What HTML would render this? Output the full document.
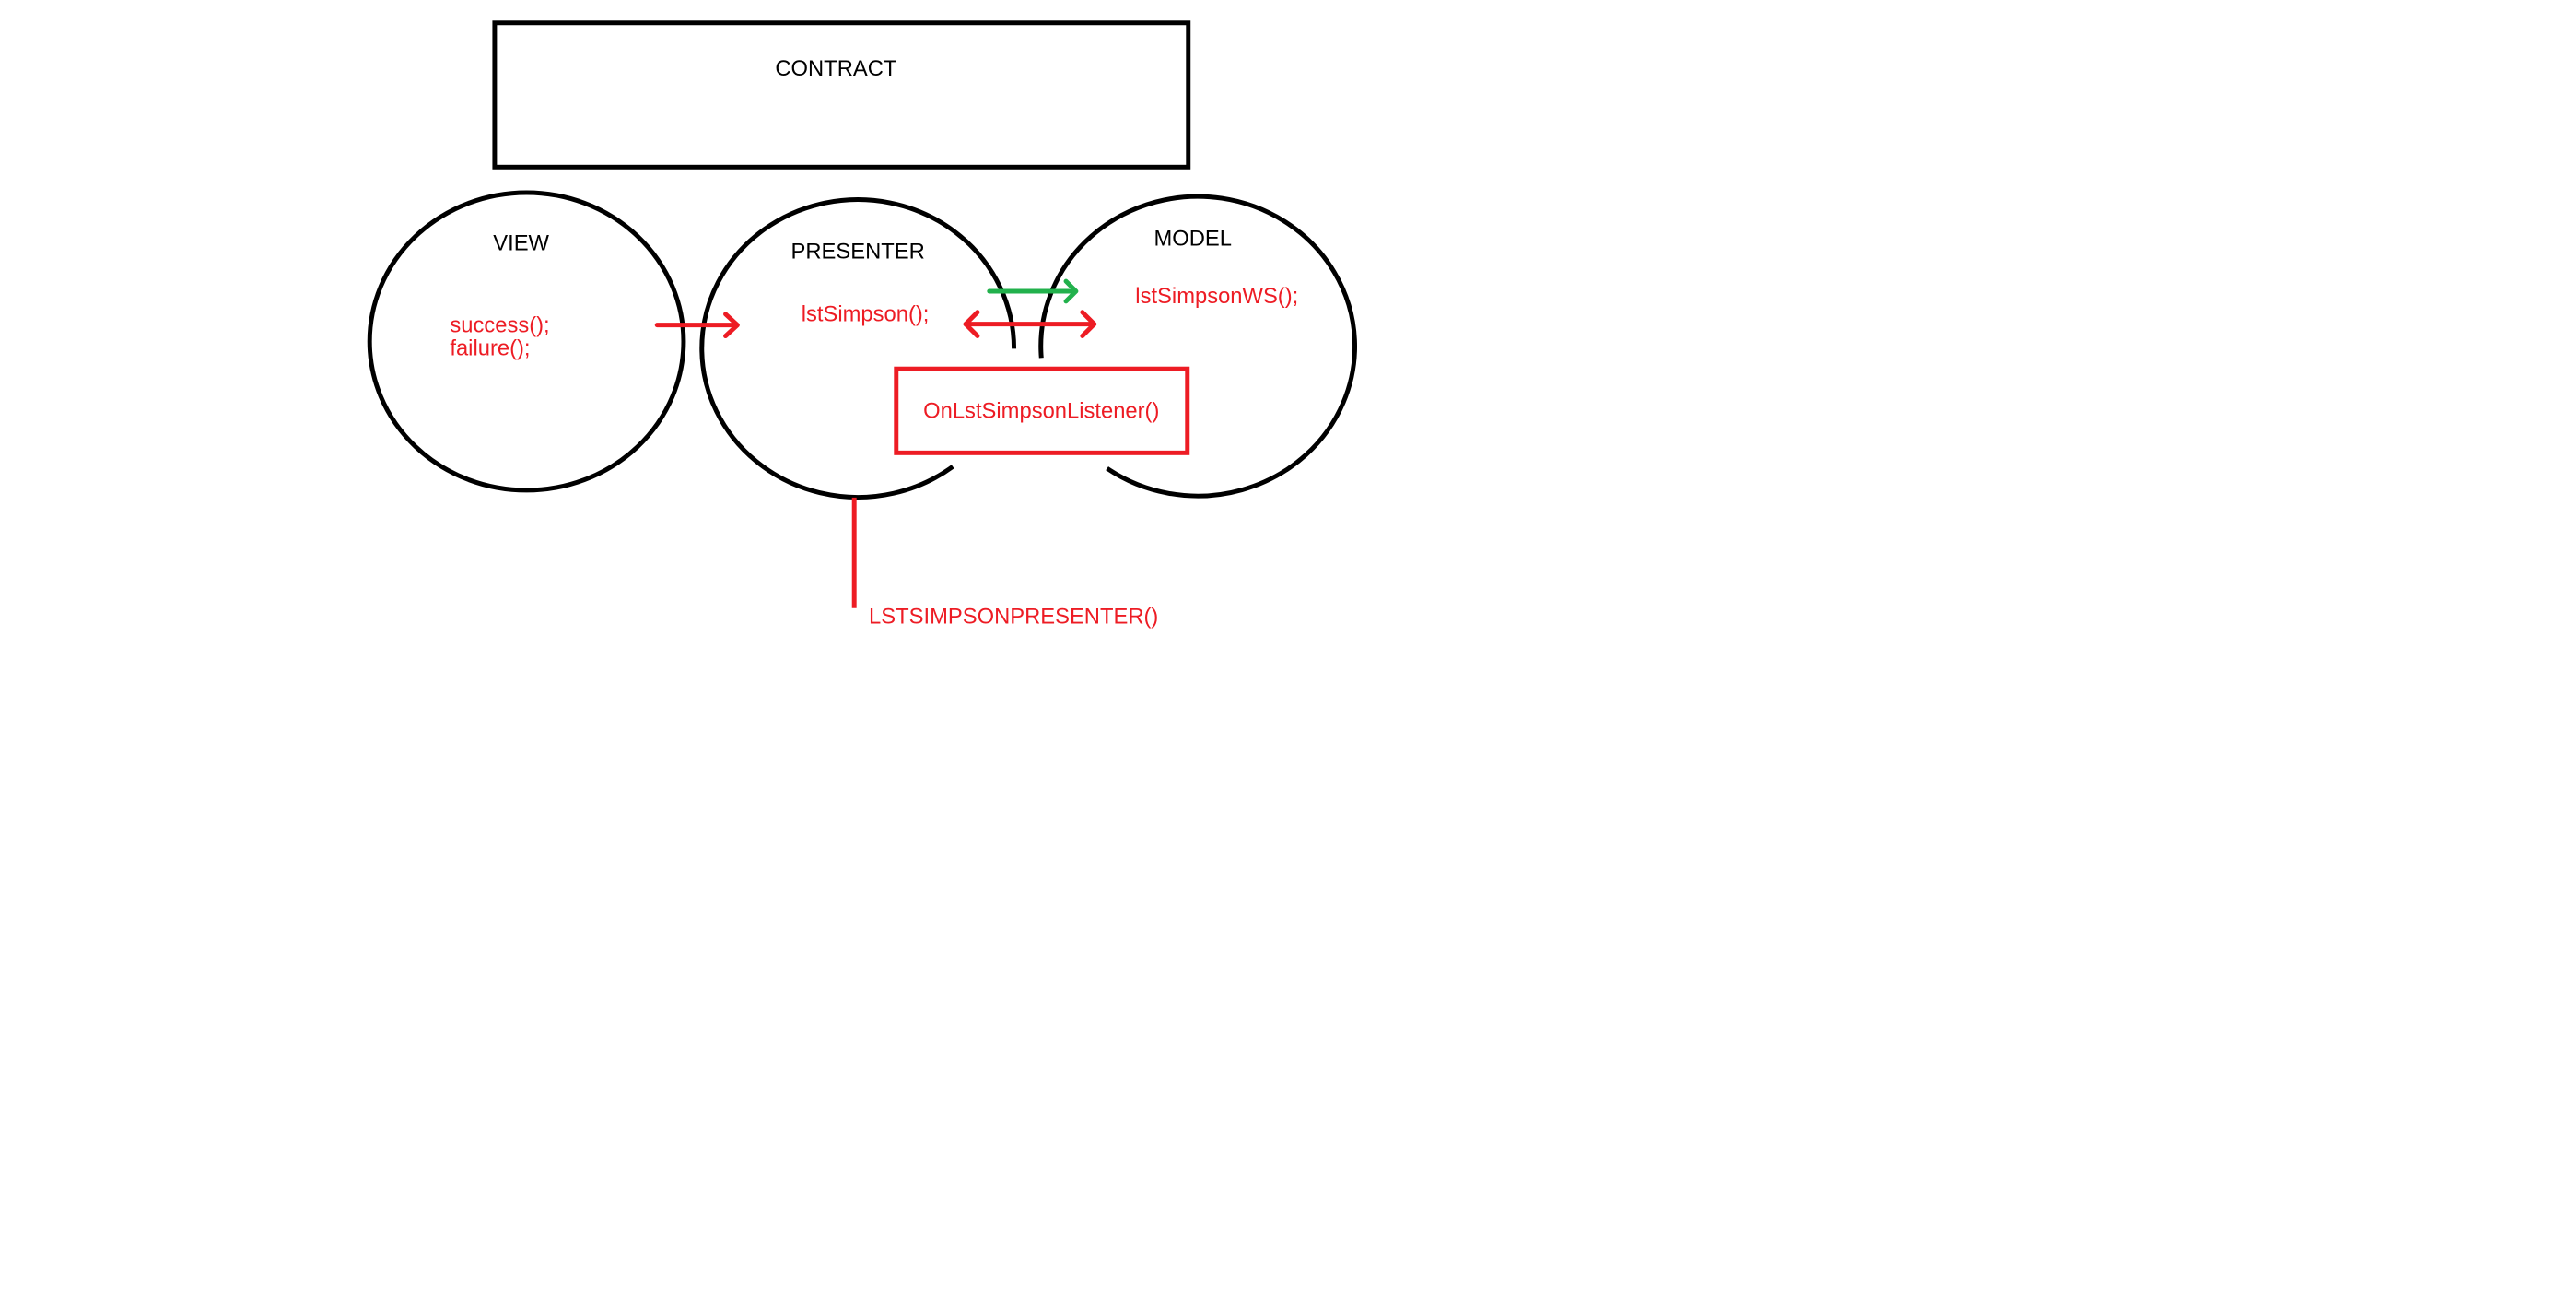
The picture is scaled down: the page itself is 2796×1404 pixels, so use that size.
<!DOCTYPE html>
<html><head><meta charset="utf-8"><style>
html,body{margin:0;padding:0;background:#fff;}
svg{display:block;}
text{font-family:"Liberation Sans",sans-serif;font-size:24px;}
</style></head><body>
<svg width="2796" height="1404" viewBox="0 0 2796 1404" xmlns="http://www.w3.org/2000/svg">
<rect x="0" y="0" width="2796" height="1404" fill="#fff"/>
<g transform="scale(0.9906)">
<rect x="542" y="25" width="760" height="158" fill="none" stroke="#000" stroke-width="5"/>
<text x="916" y="83" text-anchor="middle" fill="#000">CONTRACT</text>
<ellipse cx="577" cy="374" rx="172" ry="163" fill="none" stroke="#000" stroke-width="5"/>
<path d="M1111 382 A171 163 0 1 0 1044 511" fill="none" stroke="#000" stroke-width="5"/>
<path d="M1141 392 A172 164 0 1 1 1213 513" fill="none" stroke="#000" stroke-width="5"/>
<text x="571" y="274" text-anchor="middle" fill="#000">VIEW</text>
<text x="940" y="283" text-anchor="middle" fill="#000">PRESENTER</text>
<text x="1307" y="269" text-anchor="middle" fill="#000">MODEL</text>
<g fill="#ed1c24">
<text x="493" y="364">success();</text>
<text x="493" y="389">failure();</text>
<text x="878" y="352">lstSimpson();</text>
<text x="1244" y="332">lstSimpsonWS();</text>
<text x="1141" y="458" text-anchor="middle">OnLstSimpsonListener()</text>
<text x="952" y="683">LSTSIMPSONPRESENTER()</text>
</g>
<g fill="none" stroke="#ed1c24" stroke-width="5" stroke-linecap="round" stroke-linejoin="round">
<line x1="720" y1="356" x2="807" y2="356"/>
<polyline points="795,344 808,356 795,368"/>
<line x1="1058" y1="355" x2="1199" y2="355"/>
<polyline points="1071,342 1058,355 1071,368"/>
<polyline points="1186,342 1199,355 1186,368"/>
<line x1="936" y1="545" x2="936" y2="666" stroke-linecap="butt"/>
</g>
<rect x="982" y="404" width="319" height="92" fill="none" stroke="#ed1c24" stroke-width="5"/>
<g fill="none" stroke="#22b14c" stroke-width="5" stroke-linecap="round" stroke-linejoin="round">
<line x1="1084" y1="319" x2="1178" y2="319"/>
<polyline points="1168,308 1179,319 1168,330"/>
</g>
</g>
</svg>
</body></html>
